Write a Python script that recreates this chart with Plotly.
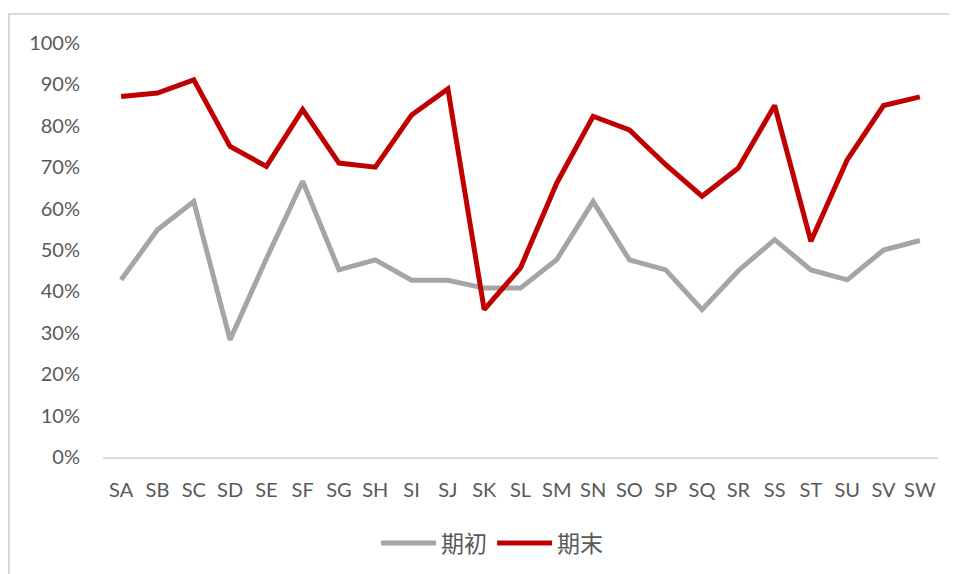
import plotly.graph_objects as go

categories = ["SA", "SB", "SC", "SD", "SE", "SF", "SG", "SH", "SI", "SJ", "SK", "SL",
              "SM", "SN", "SO", "SP", "SQ", "SR", "SS", "ST", "SU", "SV", "SW"]
start_values = [0.428, 0.549, 0.617, 0.283, 0.479, 0.666, 0.452, 0.476, 0.427, 0.427, 0.408, 0.408,
                0.477, 0.617, 0.476, 0.452, 0.356, 0.450, 0.525, 0.452, 0.428, 0.500, 0.523]
end_values = [0.871, 0.879, 0.911, 0.750, 0.702, 0.839, 0.710, 0.700, 0.826, 0.889, 0.356, 0.457,
              0.662, 0.823, 0.790, 0.706, 0.630, 0.698, 0.849, 0.521, 0.718, 0.849, 0.870]
y_ticks = [0, 0.1, 0.2, 0.3, 0.4, 0.5, 0.6, 0.7, 0.8, 0.9, 1.0]

font_family = "Lato, 'Noto Sans CJK SC', sans-serif"
text_color = "#595959"

fig = go.Figure()
fig.add_trace(go.Scatter(x=categories, y=start_values, mode="lines", name="期初",
                         line=dict(color="#A5A5A5", width=5)))
fig.add_trace(go.Scatter(x=categories, y=end_values, mode="lines", name="期末",
                         line=dict(color="#C00000", width=5)))

fig.update_layout(
    width=957, height=574,
    margin=dict(l=95, r=27, t=35, b=125),
    paper_bgcolor="white", plot_bgcolor="white",
    font=dict(family=font_family, size=20, color=text_color),
    showlegend=True,
    legend=dict(orientation="h", x=0.466, xanchor="center", y=-0.208, yanchor="middle",
                font=dict(family="'Noto Sans CJK SC', sans-serif", size=23, color=text_color),
                itemwidth=55),
    xaxis=dict(type="category", showgrid=False, showline=True, linecolor="#D9D9D9", linewidth=2,
               ticks="outside", ticklen=14, tickcolor="rgba(0,0,0,0)", zeroline=False,
               range=[-0.5, len(categories) - 0.5]),
    yaxis=dict(range=[0, 1], tickvals=y_ticks, tickformat=".0%", showgrid=False,
               showline=False, zeroline=False, ticks="outside", ticklen=18,
               tickcolor="rgba(0,0,0,0)"),
    shapes=[dict(type="rect", xref="paper", yref="paper", x0=-0.1126, x1=1.08, y0=-0.35, y1=1.07,
                 line=dict(color="#D9D9D9", width=2), layer="below")],
)

fig.write_html("out.html")
